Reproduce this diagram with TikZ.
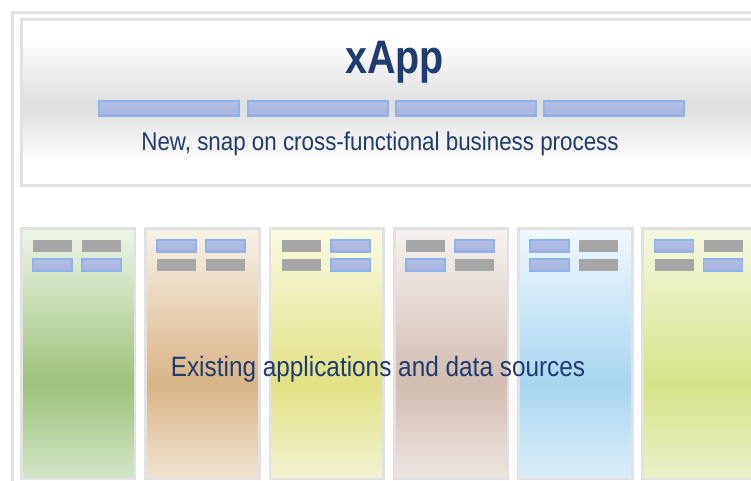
\documentclass[tikz,border=0pt]{standalone}
\usepackage{fontspec}
\setmainfont{Liberation Sans}
\newfontfamily\bodyfont{Liberation Sans}[FakeStretch=0.87]
\newfontfamily\titlefont{Liberation Sans}[FakeStretch=0.84]
\definecolor{navy}{HTML}{1F3B70}
\definecolor{framegray}{HTML}{E1E1E1}
\definecolor{topgray}{HTML}{DEDEDE}
\definecolor{boxgray}{HTML}{A6A6A6}
\definecolor{barline}{HTML}{8CB3EC}
\definecolor{bartop}{HTML}{B3BFE5}
\definecolor{barmid}{HTML}{CDD4EE}
\definecolor{barbot}{HTML}{A7B3DD}
\definecolor{top1}{HTML}{EEF5E8}\definecolor{mid1}{HTML}{9CC27A}\definecolor{bot1}{HTML}{D3E6C8}
\definecolor{top2}{HTML}{F8F2E8}\definecolor{mid2}{HTML}{D9B486}\definecolor{bot2}{HTML}{F0E3D2}
\definecolor{top3}{HTML}{FAFAE2}\definecolor{mid3}{HTML}{E2E184}\definecolor{bot3}{HTML}{F2F3D2}
\definecolor{top4}{HTML}{F6F2F0}\definecolor{mid4}{HTML}{D2BCB0}\definecolor{bot4}{HTML}{EEE5E2}
\definecolor{top5}{HTML}{F0F8FE}\definecolor{mid5}{HTML}{A8D6F0}\definecolor{bot5}{HTML}{DCEEFA}
\definecolor{top6}{HTML}{F5F8E2}\definecolor{mid6}{HTML}{D6E387}\definecolor{bot6}{HTML}{EAF1CB}
\newcommand\appbox[3]{\ifnum#1=1 \path[bsmall] (#2,#3) rectangle ++(39,12);\else \path[gsmall] (#2,#3) rectangle ++(39,12);\fi}
\begin{document}
\begin{tikzpicture}[x=1pt,y=-1pt,
  frameline/.style={draw=framegray, line width=3pt},
  colline/.style={draw=framegray, line width=2.7pt},
  gsmall/.style={fill=boxgray},
  bsmall/.style={draw=barline, line width=1.8pt, top color=bartop, middle color=barmid, bottom color=barbot},
  bar/.style={draw=barline, line width=2pt, top color=bartop, middle color=barmid, bottom color=barbot,
    minimum width=140pt, minimum height=15pt, inner sep=0pt},
  label/.style={anchor=base, text=navy, inner sep=0pt}]
\useasboundingbox (0,0) rectangle (751,480);
\clip (0,0) rectangle (751,480);
\fill[white] (0,0) rectangle (751,480);
% outer frame
\path[frameline] (12.5,12.5) rectangle (820,560);
% top box
\fill[white] (21.5,19.5) rectangle (820,185);
\shade[top color=white, bottom color=topgray] (21.5,38) rectangle (820,106);
\shade[top color=topgray, bottom color=white] (21.5,106) rectangle (820,162);
\path[frameline] (21.5,19.5) rectangle (820,185);
\node[bar] (bar1) at (169,108.5) {};
\node[bar] (bar2) at (317.5,108.5) {};
\node[bar] (bar3) at (465.5,108.5) {};
\node[bar] (bar4) at (613.5,108.5) {};
\node[label, font=\titlefont\bfseries\fontsize{47}{50}\selectfont] (title) at (394.5,73) {xApp};
\node[label, font=\bodyfont\fontsize{25.7}{28}\selectfont] (subtitle) at (380,150) {New, snap on cross-functional business process};
% columns
\foreach \i/\cx/\pa/\pb/\pc/\pd in {1/21.3/0/0/1/1, 2/145.6/1/1/0/0, 3/269.9/0/1/0/1, 4/394.2/0/1/1/0, 5/518.5/1/0/1/0, 6/642.8/1/0/0/1} {
  \shade[top color=top\i, bottom color=mid\i] (\cx,228.7) rectangle (\cx+113.7,384);
  \shade[top color=mid\i, bottom color=bot\i] (\cx,384) rectangle (\cx+113.7,479);
  \path[colline] (\cx,228.7) rectangle (\cx+113.7,479);
  \appbox{\pa}{\cx+11.7}{240}
  \appbox{\pb}{\cx+60.7}{240}
  \appbox{\pc}{\cx+11.7}{259}
  \appbox{\pd}{\cx+60.7}{259}
}
\node[label, font=\bodyfont\fontsize{28}{30}\selectfont] (existing) at (378,376) {Existing applications and data sources};
\end{tikzpicture}
\end{document}
